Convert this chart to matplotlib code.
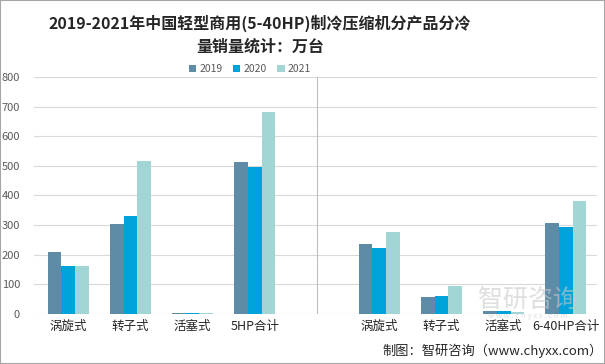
import numpy as np
import matplotlib
matplotlib.use("Agg")
import matplotlib.pyplot as plt
from matplotlib.patches import Rectangle

plt.rcParams['font.family'] = ['Noto Sans CJK SC', 'DejaVu Sans']

# Data
categories = ["涡旋式", "转子式", "活塞式", "5HP合计", "",
              "涡旋式", "转子式", "活塞式", "6-40HP合计"]
years = ["2019", "2020", "2021"]
v2019 = [208, 304, 3, 513, 0, 236, 57, 9, 307]
v2020 = [161, 331, 3, 497, 0, 223, 61, 9, 295]
v2021 = [161, 517, 2, 682, 0, 277, 95, 6, 382]
yticks = [0, 100, 200, 300, 400, 500, 600, 700, 800]

colors = ["#5E8CA6", "#00A2DA", "#A2D6D5"]

fig = plt.figure(figsize=(6.05, 3.64), dpi=100)
ax = fig.add_axes([34 / 605, 50 / 364, 563 / 605, 237 / 364])

x = np.arange(len(categories))
w = 0.22
for i, (vals, c, lab) in enumerate(zip([v2019, v2020, v2021], colors, years)):
    ax.bar(x + (i - 1) * w, vals, width=w, color=c, label=lab, zorder=3)

ax.set_xlim(-0.55, len(categories) - 0.5)
ax.set_ylim(0, 800)
ax.set_yticks(yticks)
ax.set_yticklabels([str(t) for t in yticks], fontsize=8, color="#595959")
ax.set_xticks([i for i, c in enumerate(categories) if c])
ax.set_xticklabels([c for c in categories if c], fontsize=9, color="#262626")
ax.tick_params(axis="both", length=0)
ax.tick_params(axis="y", pad=10)
ax.tick_params(axis="x", pad=4)
for s in ax.spines.values():
    s.set_visible(False)
ax.grid(axis="y", color="#D9D9D9", linewidth=0.8, zorder=0)
# separator between the two groups
ax.axvline(4, color="#BFBFBF", linewidth=0.8, zorder=2)

leg = fig.legend(loc="center", bbox_to_anchor=(250 / 605, 1 - 69 / 364), ncol=3,
                 frameon=False, fontsize=7.5, handlelength=0.7, handleheight=0.7,
                 handletextpad=0.3, columnspacing=1.0)
for t in leg.get_texts():
    t.set_color("#595959")

fig.text(260 / 605, 1 - 23 / 364, "2019-2021年中国轻型商用(5-40HP)制冷压缩机分产品分冷",
         ha="center", va="center", fontsize=11.5, fontweight="bold", color="#262626")
fig.text(260 / 605, 1 - 47 / 364, "量销量统计：万台",
         ha="center", va="center", fontsize=11.5, fontweight="bold", color="#262626")

# watermark
fig.text(528 / 605, 1 - 300 / 364, "智研咨询", ha="center", va="center",
         fontsize=18, color="#C8C8C8", alpha=0.6, zorder=5)
fig.text(528 / 605, 1 - 316 / 364, "w w w . c h y x x . c o m", ha="center", va="center",
         fontsize=5.5, color="#C8C8C8", alpha=0.6, zorder=5)

fig.text(603 / 605, 1 - 351 / 364, "制图：智研咨询（www.chyxx.com）", ha="right",
         va="center", fontsize=9.5, color="#262626")

fig.patches.append(Rectangle((0, 0), 1, 1, transform=fig.transFigure, fill=False,
                             edgecolor="#A6A6A6", linewidth=1.5))

fig.savefig("out.png", dpi=100)
